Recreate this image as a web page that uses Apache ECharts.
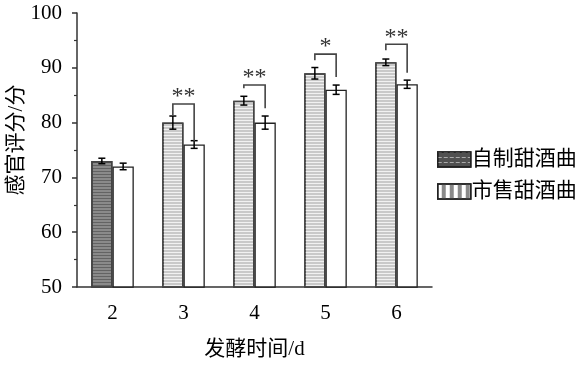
<!DOCTYPE html>
<html><head><meta charset="utf-8">
<script src="https://cdn.jsdelivr.net/npm/echarts@6/dist/echarts.min.js"></script>
<style>html,body{margin:0;padding:0;background:#fff}#c{width:580px;height:365px}</style>
</head><body><div id="c"></div>
<script>
var categories = ['2', '3', '4', '5', '6'];
var seriesNames = ['自制甜酒曲', '市售甜酒曲'];
var selfMade = [73, 80, 84, 89, 91];
var selfErr = [0.5, 1.2, 0.8, 1.05, 0.6];
var commercial = [72, 76, 80, 86, 87];
var commErr = [0.6, 0.7, 1.2, 0.85, 0.75];
var sigLabel = ['', '**', '**', '*', '**'];
var bracketTop = [null, 83.4, 86.85, 92.5, 94.3];
var bracketLeftBottom = [null, 81.4, 86.25, 91.4, 93.2];
var bracketRightBottom = [null, 76.6, 82.6, 88.3, 89.1];
var yTicks = [50, 60, 70, 80, 90, 100];

var BAR_FRAC = 0.3;
var serif = '"Liberation Serif","Times New Roman",serif';
var cjk = '"Liberation Serif","Noto Sans CJK SC",serif';

var stripeH = function (c) { return {symbol: 'rect', symbolSize: 1, dashArrayX: [[1, 0]], dashArrayY: [1, 2], color: c}; };
var stripeV = {symbol: 'rect', symbolSize: 1, dashArrayX: [[1, 0]], dashArrayY: [4, 4], rotation: Math.PI / 2, color: '#8a8a8a'};

var chart = echarts.init(document.getElementById('c'), null, {renderer: 'canvas'});

function errRender(sign) {
  return function (params, api) {
    var cat = api.value(0), v = api.value(1), e = api.value(2);
    var bw = api.size([1, 0])[0] * BAR_FRAC;
    var c = api.coord([cat, v]);
    var x = c[0] + sign * bw / 2;
    var yt = api.coord([cat, v + e])[1];
    var yb = api.coord([cat, v - e])[1];
    var cap = 3.5;
    var st = {stroke: '#000', lineWidth: 1.5};
    return {type: 'group', children: [
      {type: 'line', shape: {x1: x, y1: yt, x2: x, y2: yb}, style: st},
      {type: 'line', shape: {x1: x - cap, y1: yt, x2: x + cap, y2: yt}, style: st},
      {type: 'line', shape: {x1: x - cap, y1: yb, x2: x + cap, y2: yb}, style: st}
    ]};
  };
}

var errSelfData = selfMade.map(function (v, i) { return [i, v, selfErr[i]]; });
var errCommData = commercial.map(function (v, i) { return [i, v, commErr[i]]; });
var bracketData = [];
for (var i = 0; i < categories.length; i++) {
  if (bracketTop[i] != null) bracketData.push([i, bracketTop[i], bracketLeftBottom[i], bracketRightBottom[i], sigLabel[i]]);
}

var option = {
  animation: false,
  grid: {left: 77, right: 148, top: 13, bottom: 78, containLabel: false, outerBoundsMode: 'none'},
  legend: {
    orient: 'vertical', left: 432, top: 144, itemWidth: 33, itemHeight: 15, itemGap: 11,
    textStyle: {fontFamily: cjk, fontSize: 21, color: '#000', padding: [0, 0, 0, -4]},
    data: [
      {name: seriesNames[0], icon: 'rect', itemStyle: {color: '#505050', borderColor: '#222', borderWidth: 1.5, decal: {symbol: 'rect', symbolSize: 1, dashArrayX: [[4, 2]], dashArrayY: [1, 4], color: '#aaaaaa'}}},
      {name: seriesNames[1], icon: 'rect', itemStyle: {color: '#ffffff', borderColor: '#222', borderWidth: 1.5, decal: stripeV}}
    ]
  },
  xAxis: {
    type: 'category', data: categories,
    name: '发酵时间/d', nameLocation: 'middle', nameGap: 52, nameMoveOverlap: false,
    nameTextStyle: {fontFamily: cjk, fontSize: 21, color: '#000'},
    axisLine: {lineStyle: {color: '#333', width: 1.5}},
    axisTick: {alignWithLabel: true, length: 6, lineStyle: {color: '#333', width: 1.5}},
    axisLabel: {fontFamily: serif, fontSize: 21, color: '#000', margin: 16}
  },
  yAxis: {
    type: 'value', min: yTicks[0], max: yTicks[yTicks.length - 1], interval: 10,
    name: '感官评分/分', nameLocation: 'middle', nameGap: 50, nameRotate: 90, nameMoveOverlap: false,
    nameTextStyle: {fontFamily: cjk, fontSize: 21, color: '#000', padding: [0, 0, 0, 20]},
    axisLine: {show: true, lineStyle: {color: '#333', width: 1.5}},
    axisTick: {show: true, length: 5, lineStyle: {color: '#333', width: 1.5}},
    minorTick: {show: true, splitNumber: 2, length: 3, lineStyle: {color: '#333', width: 1.2}},
    splitLine: {show: false},
    axisLabel: {fontFamily: serif, fontSize: 21, color: '#000', margin: 15}
  },
  series: [
    {
      name: seriesNames[0], type: 'bar', barWidth: (BAR_FRAC * 100) + '%', barGap: '0%',
      itemStyle: {color: '#505050', borderColor: '#444', borderWidth: 1.5},
      data: selfMade.map(function (v, i) {
        return {value: v, itemStyle: i === 0
          ? {color: '#8a8a8a', decal: stripeH('rgba(60,60,60,0.5)')}
          : {color: '#c9c9c9', decal: stripeH('rgba(255,255,255,0.75)')}};
      })
    },
    {
      name: seriesNames[1], type: 'bar', barWidth: (BAR_FRAC * 100) + '%', barGap: '0%',
      itemStyle: {color: '#ffffff', borderColor: '#222', borderWidth: 1.3},
      data: commercial
    },
    {type: 'custom', renderItem: errRender(-1), data: errSelfData, z: 5, silent: true},
    {type: 'custom', renderItem: errRender(1), data: errCommData, z: 5, silent: true},
    {
      type: 'custom', z: 6, silent: true, data: bracketData,
      renderItem: function (params, api) {
        var cat = api.value(0);
        var bw = api.size([1, 0])[0] * BAR_FRAC;
        var cx = api.coord([cat, api.value(1)])[0];
        var xl = cx - bw / 2, xr = cx + bw / 2;
        var yt = api.coord([cat, api.value(1)])[1];
        var yl = api.coord([cat, api.value(2)])[1];
        var yr = api.coord([cat, api.value(3)])[1];
        var label = bracketData[params.dataIndex][4];
        return {type: 'group', children: [
          {type: 'polyline', shape: {points: [[xl, yl], [xl, yt], [xr, yt], [xr, yr]]}, style: {stroke: '#444', lineWidth: 1.6, fill: null}},
          {type: 'text', x: cx, y: yt + 5, style: {text: label, fontFamily: serif, fontSize: 24, fill: '#333', align: 'center', verticalAlign: 'bottom'}}
        ]};
      }
    }
  ]
};
chart.setOption(option);
</script></body></html>
